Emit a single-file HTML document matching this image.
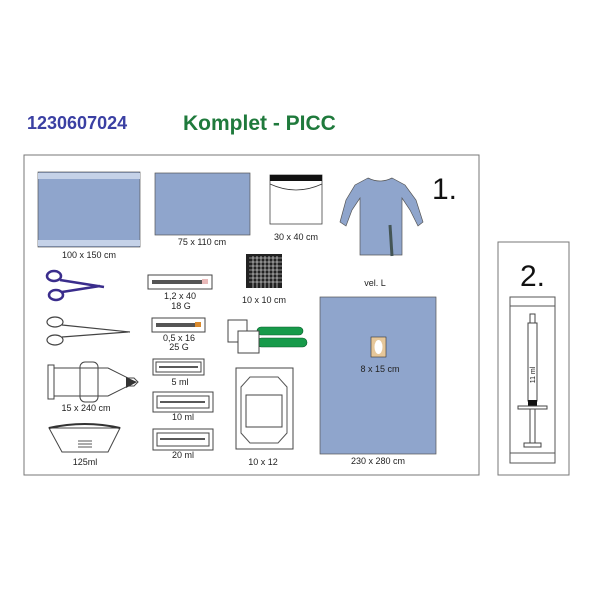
<!DOCTYPE html>
<html><head><meta charset="utf-8"><style>
html,body{margin:0;padding:0;background:#fff;}
svg{display:block}
text{font-family:"Liberation Sans",sans-serif;}
</style></head><body>
<svg width="600" height="600" viewBox="0 0 600 600" xmlns="http://www.w3.org/2000/svg">
<rect width="600" height="600" fill="#fff"/>
<text x="27" y="129" font-size="18" font-weight="bold" fill="#3b40a3">1230607024</text>
<text x="183" y="130" font-size="21" font-weight="bold" fill="#1f7a3c">Komplet - PICC</text>

<rect x="24" y="155" width="455" height="320" fill="none" stroke="#777" stroke-width="1"/>
<rect x="498" y="242" width="71" height="233" fill="none" stroke="#777" stroke-width="1"/>

<g font-size="9" fill="#222" text-anchor="middle">
<!-- drape 100x150 -->
<rect x="38" y="172" width="102" height="75" fill="#8fa5cc" stroke="#555" stroke-width="0.7"/>
<rect x="38" y="173" width="102" height="6" fill="#c5d2e8"/>
<rect x="38" y="240" width="102" height="6" fill="#c5d2e8"/>
<text x="89" y="258">100 x 150 cm</text>
<!-- 75x110 -->
<rect x="155" y="173" width="95" height="62" fill="#8fa5cc" stroke="#555" stroke-width="0.7"/>
<text x="202" y="245">75 x 110 cm</text>
<!-- 30x40 -->
<rect x="270" y="175" width="52" height="49" fill="#fff" stroke="#444" stroke-width="0.8"/>
<rect x="270" y="175" width="52" height="6" fill="#111"/>
<path d="M270 184 Q296 196 322 184" fill="none" stroke="#333" stroke-width="0.8"/>
<text x="296" y="240">30 x 40 cm</text>
<!-- gown -->
<path d="M368 178 L355 185 L346 200 L340 222 L346 226 L352 210 L360 198 L360 255 L402 255 L402 198 L410 210 L418 226 L423 222 L416 200 L405 185 L392 178 Q380 184 368 178 Z" fill="#8fa5cc" stroke="#555" stroke-width="0.7"/>
<line x1="390" y1="225" x2="392" y2="256" stroke="#455" stroke-width="3"/>
<text x="375" y="286">vel. L</text>
<text x="432" y="199" font-size="30" text-anchor="start" fill="#111">1.</text>
<!-- gauze -->
<rect x="246" y="254" width="36" height="34" fill="#222"/>
<g stroke="#fff" stroke-width="0.6">
<path d="M249 258H282M249 262H282M249 266H282M249 270H282M249 274H282M249 278H282M249 282H282M253 256V288M257 256V288M261 256V288M265 256V288M269 256V288M273 256V288M277 256V288"/>
</g>
<text x="264" y="303">10 x 10 cm</text>
<!-- large drape -->
<rect x="320" y="297" width="116" height="157" fill="#8fa5cc" stroke="#555" stroke-width="0.7"/>
<rect x="371" y="337" width="15" height="20" fill="#e6c79a" stroke="#333" stroke-width="0.6"/>
<ellipse cx="378.5" cy="347" rx="4" ry="7" fill="#fff"/>
<text x="380" y="372">8 x 15 cm</text>
<text x="378" y="464">230 x 280 cm</text>
<!-- scissors -->
<g fill="none" stroke="#3a2d8c" stroke-width="2.5">
<ellipse cx="54" cy="276" rx="7" ry="5"/><ellipse cx="56" cy="295" rx="7" ry="5"/>
<path d="M60 280 L104 287 M62 292 L100 286"/>
</g>
<g fill="none" stroke="#444" stroke-width="1.2">
<ellipse cx="55" cy="322" rx="8" ry="5"/><ellipse cx="55" cy="340" rx="8" ry="5"/>
<path d="M62 325 L130 332 M62 337 L128 332"/>
</g>
<!-- needles -->
<rect x="148" y="275" width="64" height="14" fill="#fff" stroke="#444"/>
<rect x="152" y="280" width="52" height="4" fill="#555"/><rect x="202" y="279" width="6" height="5" fill="#e9b9b9"/>
<text x="180" y="299">1,2 x 40</text><text x="181" y="309">18 G</text>
<rect x="152" y="318" width="53" height="14" fill="#fff" stroke="#444"/>
<rect x="156" y="323" width="40" height="4" fill="#555"/><rect x="195" y="322" width="6" height="5" fill="#d9892c"/>
<text x="179" y="341">0,5 x 16</text><text x="179" y="350">25 G</text>
<!-- syringes -->
<g fill="#fff" stroke="#444">
<rect x="153" y="359" width="51" height="16"/><rect x="156" y="362" width="45" height="10"/>
<rect x="153" y="392" width="60" height="20"/><rect x="157" y="396" width="52" height="12"/>
<rect x="153" y="429" width="60" height="21"/><rect x="157" y="433" width="52" height="13"/>
</g>
<g stroke="#222" stroke-width="1.5"><path d="M159 367H198M160 402H205M160 439H205"/></g>
<text x="180" y="385">5 ml</text><text x="183" y="420">10 ml</text><text x="183" y="458">20 ml</text>
<!-- bandage -->
<path d="M48 368 H108 L128 378 H134 L138 382 L134 386 H128 L108 396 H48 Z" fill="#fff" stroke="#444"/>
<rect x="48" y="365" width="6" height="34" fill="#fff" stroke="#444"/>
<rect x="80" y="362" width="18" height="40" rx="5" fill="none" stroke="#444"/>
<path d="M126 377 L137 382 L126 388Z" fill="#333"/>
<text x="86" y="411">15 x 240 cm</text>
<!-- bowl -->
<path d="M49 428 H120 L108 452 H62 Z" fill="#fff" stroke="#444"/>
<path d="M49 428 Q85 420 120 428" fill="none" stroke="#333" stroke-width="2"/>
<path d="M78 441H92M78 444H92M78 447H92" stroke="#555"/>
<text x="85" y="465">125ml</text>
<!-- swabs -->
<rect x="257" y="327" width="46" height="8" rx="4" fill="#179a4a" stroke="#0a5a2a" stroke-width="0.6"/>
<rect x="257" y="338" width="50" height="9" rx="4.5" fill="#179a4a" stroke="#0a5a2a" stroke-width="0.6"/>
<rect x="228" y="320" width="19" height="22" fill="#fff" stroke="#444"/>
<rect x="238" y="331" width="21" height="22" fill="#fff" stroke="#444"/>
<!-- dressing -->
<rect x="236" y="368" width="57" height="81" fill="#fff" stroke="#444"/>
<path d="M250 377 H278 L287 387 V433 L278 443 H250 L241 433 V387 Z" fill="#fff" stroke="#555"/>
<rect x="246" y="395" width="36" height="32" fill="#fff" stroke="#444"/>
<text x="263" y="465">10 x 12</text>
<!-- box 2 -->
<text x="520" y="286" font-size="30" text-anchor="start" fill="#111">2.</text>
<rect x="510" y="297" width="45" height="166" fill="#fff" stroke="#555"/>
<line x1="510" y1="306" x2="555" y2="306" stroke="#555"/>
<line x1="510" y1="453" x2="555" y2="453" stroke="#555"/>
<rect x="530" y="314" width="5" height="9" fill="#fff" stroke="#444"/>
<rect x="528" y="323" width="9" height="78" fill="#fff" stroke="#444"/>
<rect x="528" y="400" width="9" height="6" fill="#111"/>
<rect x="518" y="406" width="29" height="3" fill="#fff" stroke="#444"/>
<rect x="530" y="409" width="5" height="34" fill="#fff" stroke="#444"/>
<rect x="524" y="443" width="17" height="4" fill="#fff" stroke="#444"/>
<text x="0" y="0" font-size="7" transform="translate(535,375) rotate(-90)">11 ml</text>
</g>
</svg>
</body></html>
